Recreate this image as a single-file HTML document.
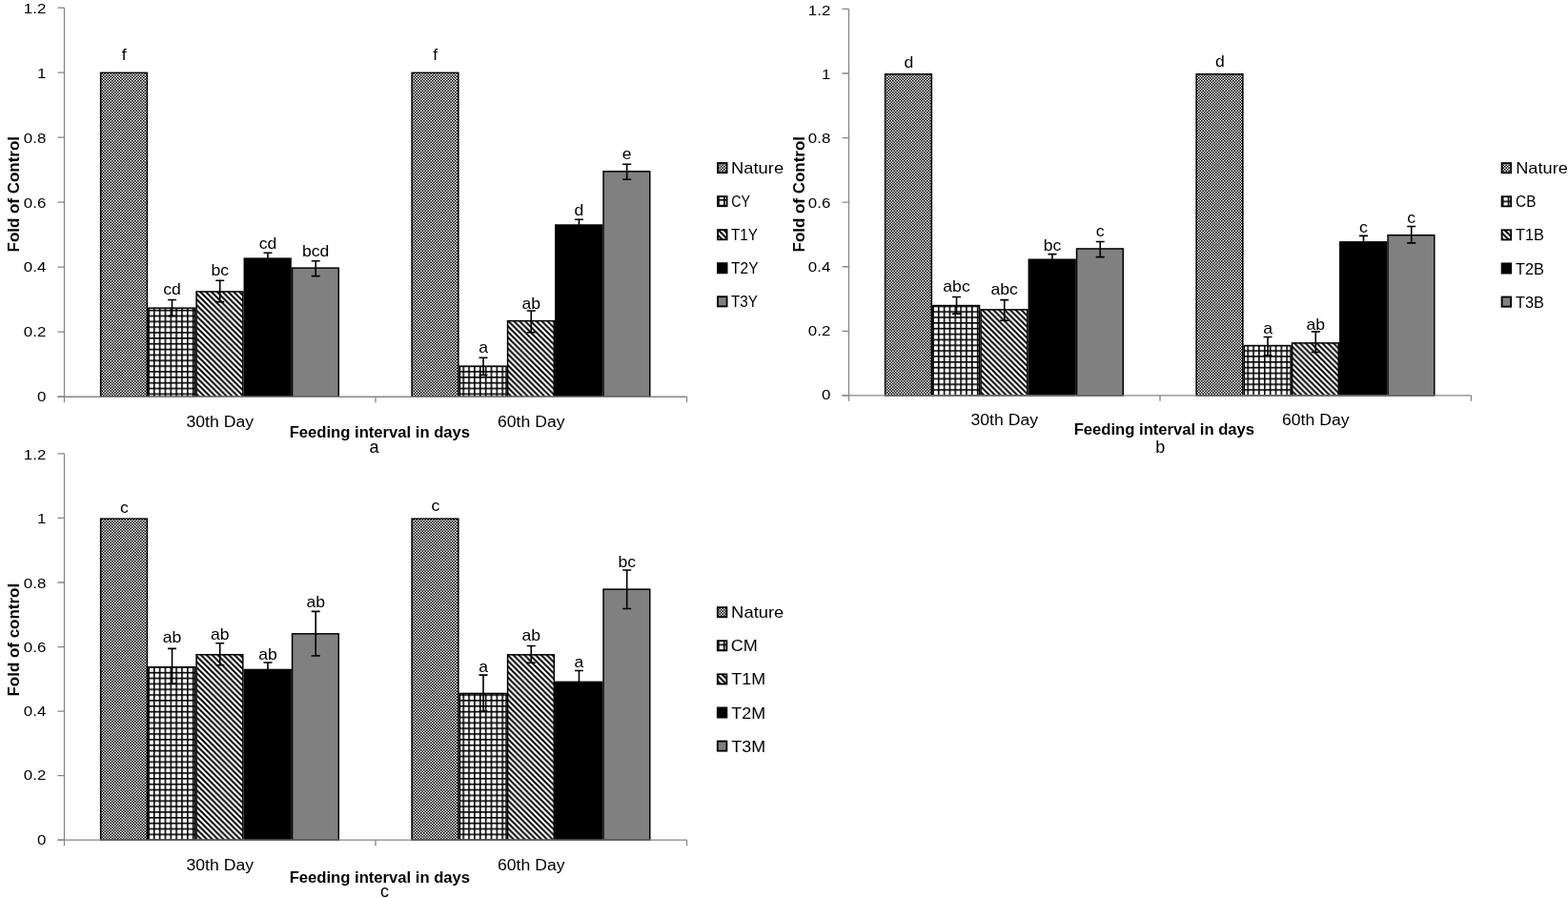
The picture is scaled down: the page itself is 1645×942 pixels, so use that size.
<!DOCTYPE html><html><head><meta charset="utf-8"><title>Fold of Control charts</title>
<style>html,body{margin:0;padding:0;background:#fff;width:1645px;height:942px;overflow:hidden}svg{display:block}text{font-family:"Liberation Sans", sans-serif;fill:#000}</style></head><body>
<svg width="1645" height="942" viewBox="0 0 1645 942">
<defs>
<pattern id="pNat" patternUnits="userSpaceOnUse" width="3" height="3"><rect width="3" height="3" fill="#7a7a7a"/><rect width="1" height="1" fill="#000"/><rect x="2" y="2" width="1" height="1" fill="#000"/><rect x="2" width="1" height="1" fill="#fff"/><rect y="2" width="1" height="1" fill="#fff"/></pattern>
<pattern id="pGrid" patternUnits="userSpaceOnUse" width="5.85" height="5.85"><rect width="5.85" height="5.85" fill="#fff"/><rect width="1.6" height="5.85" fill="#000"/><rect width="5.85" height="1.6" fill="#000"/></pattern>
<pattern id="pDiag" patternUnits="userSpaceOnUse" x="3.42" width="5.85" height="5.85"><rect width="5.85" height="5.85" fill="#fff"/><path d="M-2,-2L7.85,7.85M-7.85,-2L2,7.85M3.85,-2L13.7,7.85" stroke="#000" stroke-width="1.9"/></pattern>
</defs>
<rect width="1645" height="942" fill="#fff"/>
<rect x="105.62" y="76.34" width="48.73" height="339.91" fill="url(#pNat)" stroke="#000" stroke-width="1.5"/>
<defs><pattern id="g00" href="#pGrid" x="155.05" y="412.52"/></defs>
<rect x="155.85" y="323.15" width="48.73" height="93.1" fill="url(#g00)" stroke="#000" stroke-width="1.5"/>
<rect x="206.08" y="305.94" width="48.73" height="110.31" fill="url(#pDiag)" stroke="#000" stroke-width="1.5"/>
<rect x="256.32" y="271.14" width="48.73" height="145.11" fill="#000" stroke="#000" stroke-width="1.5"/>
<rect x="306.55" y="281.14" width="48.73" height="135.11" fill="#808080" stroke="#000" stroke-width="1.5"/>
<rect x="432.12" y="76.34" width="48.73" height="339.91" fill="url(#pNat)" stroke="#000" stroke-width="1.5"/>
<defs><pattern id="g01" href="#pGrid" x="485.4" y="412.52"/></defs>
<rect x="482.35" y="384.14" width="48.73" height="32.11" fill="url(#g01)" stroke="#000" stroke-width="1.5"/>
<rect x="532.58" y="336.59" width="48.73" height="79.66" fill="url(#pDiag)" stroke="#000" stroke-width="1.5"/>
<rect x="582.82" y="236.04" width="48.73" height="180.21" fill="#000" stroke="#000" stroke-width="1.5"/>
<rect x="633.05" y="179.85" width="48.73" height="236.4" fill="#808080" stroke="#000" stroke-width="1.5"/>
<text transform="translate(130.29,62.5) scale(1.1,1)" font-size="16" text-anchor="middle">f</text>
<path d="M180.52,314.5V331.5M176.02,314.5h9M176.02,331.5h9" stroke="#000" stroke-width="1.6" fill="none"/>
<text transform="translate(180.52,309.3) scale(1.1,1)" font-size="16" text-anchor="middle">cd</text>
<path d="M230.75,294.19V316.59M226.25,294.19h9M226.25,316.59h9" stroke="#000" stroke-width="1.6" fill="none"/>
<text transform="translate(230.75,288.6) scale(1.1,1)" font-size="16" text-anchor="middle">bc</text>
<path d="M280.98,265.19V275.59M276.48,265.19h9M276.48,275.59h9" stroke="#000" stroke-width="1.6" fill="none"/>
<text transform="translate(280.98,261.3) scale(1.1,1)" font-size="16" text-anchor="middle">cd</text>
<path d="M331.21,273.79V289.59M326.71,273.79h9M326.71,289.59h9" stroke="#000" stroke-width="1.6" fill="none"/>
<text transform="translate(331.21,268.7) scale(1.1,1)" font-size="16" text-anchor="middle">bcd</text>
<text transform="translate(456.79,62.6) scale(1.1,1)" font-size="16" text-anchor="middle">f</text>
<path d="M507.02,375.29V393.49M502.52,375.29h9M502.52,393.49h9" stroke="#000" stroke-width="1.6" fill="none"/>
<text transform="translate(507.02,369.6) scale(1.1,1)" font-size="16" text-anchor="middle">a</text>
<path d="M557.25,325.94V348.74M552.75,325.94h9M552.75,348.74h9" stroke="#000" stroke-width="1.6" fill="none"/>
<text transform="translate(557.25,323.6) scale(1.1,1)" font-size="16" text-anchor="middle">ab</text>
<path d="M607.48,230.29V240.29M602.98,230.29h9M602.98,240.29h9" stroke="#000" stroke-width="1.6" fill="none"/>
<text transform="translate(607.48,226.2) scale(1.1,1)" font-size="16" text-anchor="middle">d</text>
<path d="M657.71,172.2V188.3M653.21,172.2h9M653.21,188.3h9" stroke="#000" stroke-width="1.6" fill="none"/>
<text transform="translate(657.71,167) scale(1.1,1)" font-size="16" text-anchor="middle">e</text>
<path d="M67.5,8.07V416.25" stroke="#868686" stroke-width="1.3" fill="none"/>
<path d="M60.5,416.25H720.5" stroke="#868686" stroke-width="1.3" fill="none"/>
<path d="M60.5,416.25H67.5M60.5,348.22H67.5M60.5,280.19H67.5M60.5,212.16H67.5M60.5,144.13H67.5M60.5,76.1H67.5M60.5,8.07H67.5M67.5,416.25V422.25M394,416.25V422.25M720.5,416.25V422.25" stroke="#868686" stroke-width="1.3" fill="none"/>
<text transform="translate(48.3,420.85) scale(1.11,1)" font-size="15.2" text-anchor="end">0</text>
<text transform="translate(48.3,353.08) scale(1.11,1)" font-size="15.2" text-anchor="end">0.2</text>
<text transform="translate(48.3,285.31) scale(1.11,1)" font-size="15.2" text-anchor="end">0.4</text>
<text transform="translate(48.3,217.54) scale(1.11,1)" font-size="15.2" text-anchor="end">0.6</text>
<text transform="translate(48.3,149.76) scale(1.11,1)" font-size="15.2" text-anchor="end">0.8</text>
<text transform="translate(48.3,81.99) scale(1.11,1)" font-size="15.2" text-anchor="end">1</text>
<text transform="translate(48.3,14.22) scale(1.11,1)" font-size="15.2" text-anchor="end">1.2</text>
<text transform="translate(230.75,447.7) scale(1.13,1)" font-size="15.6" text-anchor="middle">30th Day</text>
<text transform="translate(557.25,447.7) scale(1.13,1)" font-size="15.6" text-anchor="middle">60th Day</text>
<text transform="translate(398.4,458.9) scale(1.04,1)" font-size="16" text-anchor="middle" font-weight="bold">Feeding interval in days</text>
<text transform="translate(392.4,474.5)" font-size="18" text-anchor="middle">a</text>
<text transform="translate(20.4,203.75) rotate(-90) scale(1.06,1)" font-size="16" text-anchor="middle" font-weight="bold">Fold of Control</text>
<rect x="753" y="171" width="9.6" height="10.2" fill="url(#pNat)" stroke="#000" stroke-width="1.8"/>
<text transform="translate(766.92,182.1) scale(1.15,1)" font-size="16" text-anchor="start">Nature</text>
<defs><pattern id="gl0" href="#pGrid" x="759.1" y="208.95"/></defs>
<rect x="753" y="206.05" width="9.6" height="10.2" fill="url(#gl0)" stroke="#000" stroke-width="1.8"/>
<text transform="translate(767.22,217.15) scale(0.89,1)" font-size="16" text-anchor="start">CY</text>
<rect x="753" y="241.1" width="9.6" height="10.2" fill="url(#pDiag)" stroke="#000" stroke-width="1.8"/>
<text transform="translate(767.04,252.2) scale(0.95,1)" font-size="16" text-anchor="start">T1Y</text>
<rect x="753" y="276.15" width="9.6" height="10.2" fill="#000" stroke="#000" stroke-width="1.8"/>
<text transform="translate(767.04,287.25) scale(0.97,1)" font-size="16" text-anchor="start">T2Y</text>
<rect x="753" y="311.2" width="9.6" height="10.2" fill="#808080" stroke="#000" stroke-width="1.8"/>
<text transform="translate(767.04,322.3) scale(0.95,1)" font-size="16" text-anchor="start">T3Y</text>
<rect x="928.62" y="77.77" width="48.73" height="337.1" fill="url(#pNat)" stroke="#000" stroke-width="1.5"/>
<defs><pattern id="g10" href="#pGrid" x="978.05" y="408.22"/></defs>
<rect x="978.85" y="320.55" width="48.73" height="94.32" fill="url(#g10)" stroke="#000" stroke-width="1.5"/>
<rect x="1029.08" y="324.84" width="48.73" height="90.03" fill="url(#pDiag)" stroke="#000" stroke-width="1.5"/>
<rect x="1079.32" y="272.24" width="48.73" height="142.63" fill="#000" stroke="#000" stroke-width="1.5"/>
<rect x="1129.55" y="260.95" width="48.73" height="153.92" fill="#808080" stroke="#000" stroke-width="1.5"/>
<rect x="1255.12" y="77.77" width="48.73" height="337.1" fill="url(#pNat)" stroke="#000" stroke-width="1.5"/>
<defs><pattern id="g11" href="#pGrid" x="1308.4" y="408.22"/></defs>
<rect x="1305.35" y="362.54" width="48.73" height="52.33" fill="url(#g11)" stroke="#000" stroke-width="1.5"/>
<rect x="1355.58" y="359.84" width="48.73" height="55.03" fill="url(#pDiag)" stroke="#000" stroke-width="1.5"/>
<rect x="1405.82" y="253.86" width="48.73" height="161.01" fill="#000" stroke="#000" stroke-width="1.5"/>
<rect x="1456.05" y="246.69" width="48.73" height="168.18" fill="#808080" stroke="#000" stroke-width="1.5"/>
<text transform="translate(953.29,70.7) scale(1.1,1)" font-size="16" text-anchor="middle">d</text>
<path d="M1003.52,311.5V329.1M999.02,311.5h9M999.02,329.1h9" stroke="#000" stroke-width="1.6" fill="none"/>
<text transform="translate(1003.52,306.4) scale(1.1,1)" font-size="16" text-anchor="middle">abc</text>
<path d="M1053.75,314.59V336.19M1049.25,314.59h9M1049.25,336.19h9" stroke="#000" stroke-width="1.6" fill="none"/>
<text transform="translate(1053.75,309.4) scale(1.1,1)" font-size="16" text-anchor="middle">abc</text>
<path d="M1103.98,266.59V276.39M1099.48,266.59h9M1099.48,276.39h9" stroke="#000" stroke-width="1.6" fill="none"/>
<text transform="translate(1103.98,262.8) scale(1.1,1)" font-size="16" text-anchor="middle">bc</text>
<path d="M1154.21,253.5V269.6M1149.71,253.5h9M1149.71,269.6h9" stroke="#000" stroke-width="1.6" fill="none"/>
<text transform="translate(1154.21,248) scale(1.1,1)" font-size="16" text-anchor="middle">c</text>
<text transform="translate(1279.79,69.5) scale(1.1,1)" font-size="16" text-anchor="middle">d</text>
<path d="M1330.02,353.49V372.79M1325.52,353.49h9M1325.52,372.79h9" stroke="#000" stroke-width="1.6" fill="none"/>
<text transform="translate(1330.02,349.7) scale(1.1,1)" font-size="16" text-anchor="middle">a</text>
<path d="M1380.25,347.89V369.49M1375.75,347.89h9M1375.75,369.49h9" stroke="#000" stroke-width="1.6" fill="none"/>
<text transform="translate(1380.25,345.7) scale(1.1,1)" font-size="16" text-anchor="middle">ab</text>
<path d="M1430.48,247.41V258.81M1425.98,247.41h9M1425.98,258.81h9" stroke="#000" stroke-width="1.6" fill="none"/>
<text transform="translate(1430.48,243.7) scale(1.1,1)" font-size="16" text-anchor="middle">c</text>
<path d="M1480.71,237.5V254.89M1476.21,237.5h9M1476.21,254.89h9" stroke="#000" stroke-width="1.6" fill="none"/>
<text transform="translate(1480.71,233.7) scale(1.1,1)" font-size="16" text-anchor="middle">c</text>
<path d="M890.5,9.45V414.87" stroke="#868686" stroke-width="1.3" fill="none"/>
<path d="M883.5,414.87H1543.5" stroke="#868686" stroke-width="1.3" fill="none"/>
<path d="M883.5,414.87H890.5M883.5,347.3H890.5M883.5,279.73H890.5M883.5,212.16H890.5M883.5,144.59H890.5M883.5,77.02H890.5M883.5,9.45H890.5M890.5,414.87V420.87M1217,414.87V420.87M1543.5,414.87V420.87" stroke="#868686" stroke-width="1.3" fill="none"/>
<text transform="translate(871.3,419.47) scale(1.11,1)" font-size="15.2" text-anchor="end">0</text>
<text transform="translate(871.3,352.16) scale(1.11,1)" font-size="15.2" text-anchor="end">0.2</text>
<text transform="translate(871.3,284.84) scale(1.11,1)" font-size="15.2" text-anchor="end">0.4</text>
<text transform="translate(871.3,217.53) scale(1.11,1)" font-size="15.2" text-anchor="end">0.6</text>
<text transform="translate(871.3,150.22) scale(1.11,1)" font-size="15.2" text-anchor="end">0.8</text>
<text transform="translate(871.3,82.9) scale(1.11,1)" font-size="15.2" text-anchor="end">1</text>
<text transform="translate(871.3,15.59) scale(1.11,1)" font-size="15.2" text-anchor="end">1.2</text>
<text transform="translate(1053.75,446) scale(1.13,1)" font-size="15.6" text-anchor="middle">30th Day</text>
<text transform="translate(1380.25,446) scale(1.13,1)" font-size="15.6" text-anchor="middle">60th Day</text>
<text transform="translate(1221.4,456) scale(1.04,1)" font-size="16" text-anchor="middle" font-weight="bold">Feeding interval in days</text>
<text transform="translate(1217.3,475)" font-size="18" text-anchor="middle">b</text>
<text transform="translate(843.9,203.75) rotate(-90) scale(1.06,1)" font-size="16" text-anchor="middle" font-weight="bold">Fold of Control</text>
<rect x="1575.6" y="171.1" width="9.6" height="10.2" fill="url(#pNat)" stroke="#000" stroke-width="1.8"/>
<text transform="translate(1590.14,182.2) scale(1.14,1)" font-size="16" text-anchor="start">Nature</text>
<defs><pattern id="gl1" href="#pGrid" x="1581.7" y="210.5"/></defs>
<rect x="1575.6" y="206.2" width="9.6" height="10.2" fill="url(#gl1)" stroke="#000" stroke-width="1.8"/>
<text transform="translate(1590.06,217.3) scale(0.96,1)" font-size="16" text-anchor="start">CB</text>
<rect x="1575.6" y="241.3" width="9.6" height="10.2" fill="url(#pDiag)" stroke="#000" stroke-width="1.8"/>
<text transform="translate(1589.92,252.4) scale(1.02,1)" font-size="16" text-anchor="start">T1B</text>
<rect x="1575.6" y="276.4" width="9.6" height="10.2" fill="#000" stroke="#000" stroke-width="1.8"/>
<text transform="translate(1589.92,287.5) scale(1.02,1)" font-size="16" text-anchor="start">T2B</text>
<rect x="1575.6" y="311.5" width="9.6" height="10.2" fill="#808080" stroke="#000" stroke-width="1.8"/>
<text transform="translate(1589.92,322.6) scale(1.02,1)" font-size="16" text-anchor="start">T3B</text>
<rect x="105.62" y="544.2" width="48.73" height="336.95" fill="url(#pNat)" stroke="#000" stroke-width="1.5"/>
<defs><pattern id="g20" href="#pGrid" x="155.05" y="874.5"/></defs>
<rect x="155.85" y="699.74" width="48.73" height="181.41" fill="url(#g20)" stroke="#000" stroke-width="1.5"/>
<rect x="206.08" y="686.74" width="48.73" height="194.41" fill="url(#pDiag)" stroke="#000" stroke-width="1.5"/>
<rect x="256.32" y="702.45" width="48.73" height="178.7" fill="#000" stroke="#000" stroke-width="1.5"/>
<rect x="306.55" y="664.86" width="48.73" height="216.29" fill="#808080" stroke="#000" stroke-width="1.5"/>
<rect x="432.12" y="544.2" width="48.73" height="336.95" fill="url(#pNat)" stroke="#000" stroke-width="1.5"/>
<defs><pattern id="g21" href="#pGrid" x="485.4" y="874.5"/></defs>
<rect x="482.35" y="727.44" width="48.73" height="153.71" fill="url(#g21)" stroke="#000" stroke-width="1.5"/>
<rect x="532.58" y="686.84" width="48.73" height="194.31" fill="url(#pDiag)" stroke="#000" stroke-width="1.5"/>
<rect x="582.82" y="715.35" width="48.73" height="165.8" fill="#000" stroke="#000" stroke-width="1.5"/>
<rect x="633.05" y="618.16" width="48.73" height="262.99" fill="#808080" stroke="#000" stroke-width="1.5"/>
<text transform="translate(130.29,537.5) scale(1.1,1)" font-size="16" text-anchor="middle">c</text>
<path d="M180.52,680.39V717.19M176.02,680.39h9M176.02,717.19h9" stroke="#000" stroke-width="1.6" fill="none"/>
<text transform="translate(180.52,673.7) scale(1.1,1)" font-size="16" text-anchor="middle">ab</text>
<path d="M230.75,674.69V697.69M226.25,674.69h9M226.25,697.69h9" stroke="#000" stroke-width="1.6" fill="none"/>
<text transform="translate(230.75,670.7) scale(1.1,1)" font-size="16" text-anchor="middle">ab</text>
<path d="M280.98,695V708.4M276.48,695h9M276.48,708.4h9" stroke="#000" stroke-width="1.6" fill="none"/>
<text transform="translate(280.98,692.2) scale(1.1,1)" font-size="16" text-anchor="middle">ab</text>
<path d="M331.21,641.41V687.91M326.71,641.41h9M326.71,687.91h9" stroke="#000" stroke-width="1.6" fill="none"/>
<text transform="translate(331.21,637.2) scale(1.1,1)" font-size="16" text-anchor="middle">ab</text>
<text transform="translate(456.79,535.7) scale(1.1,1)" font-size="16" text-anchor="middle">c</text>
<path d="M507.02,708.09V746.09M502.52,708.09h9M502.52,746.09h9" stroke="#000" stroke-width="1.6" fill="none"/>
<text transform="translate(507.02,704.9) scale(1.1,1)" font-size="16" text-anchor="middle">a</text>
<path d="M557.25,677.49V695.29M552.75,677.49h9M552.75,695.29h9" stroke="#000" stroke-width="1.6" fill="none"/>
<text transform="translate(557.25,672) scale(1.1,1)" font-size="16" text-anchor="middle">ab</text>
<path d="M607.48,703.5V725.7M602.98,703.5h9M602.98,725.7h9" stroke="#000" stroke-width="1.6" fill="none"/>
<text transform="translate(607.48,699.7) scale(1.1,1)" font-size="16" text-anchor="middle">a</text>
<path d="M657.71,598.01V638.51M653.21,598.01h9M653.21,638.51h9" stroke="#000" stroke-width="1.6" fill="none"/>
<text transform="translate(657.71,595.4) scale(1.1,1)" font-size="16" text-anchor="middle">bc</text>
<path d="M67.5,475.91V881.15" stroke="#868686" stroke-width="1.3" fill="none"/>
<path d="M60.5,881.15H720.5" stroke="#868686" stroke-width="1.3" fill="none"/>
<path d="M60.5,881.15H67.5M60.5,813.61H67.5M60.5,746.07H67.5M60.5,678.53H67.5M60.5,610.99H67.5M60.5,543.45H67.5M60.5,475.91H67.5M67.5,881.15V887.15M394,881.15V887.15M720.5,881.15V887.15" stroke="#868686" stroke-width="1.3" fill="none"/>
<text transform="translate(48.3,885.75) scale(1.11,1)" font-size="15.2" text-anchor="end">0</text>
<text transform="translate(48.3,818.47) scale(1.11,1)" font-size="15.2" text-anchor="end">0.2</text>
<text transform="translate(48.3,751.18) scale(1.11,1)" font-size="15.2" text-anchor="end">0.4</text>
<text transform="translate(48.3,683.9) scale(1.11,1)" font-size="15.2" text-anchor="end">0.6</text>
<text transform="translate(48.3,616.62) scale(1.11,1)" font-size="15.2" text-anchor="end">0.8</text>
<text transform="translate(48.3,549.33) scale(1.11,1)" font-size="15.2" text-anchor="end">1</text>
<text transform="translate(48.3,482.05) scale(1.11,1)" font-size="15.2" text-anchor="end">1.2</text>
<text transform="translate(230.75,912.7) scale(1.13,1)" font-size="15.6" text-anchor="middle">30th Day</text>
<text transform="translate(557.25,912.7) scale(1.13,1)" font-size="15.6" text-anchor="middle">60th Day</text>
<text transform="translate(398.4,925.6) scale(1.04,1)" font-size="16" text-anchor="middle" font-weight="bold">Feeding interval in days</text>
<text transform="translate(403.5,940.9)" font-size="18" text-anchor="middle">c</text>
<text transform="translate(20.4,671.2) rotate(-90) scale(1.06,1)" font-size="16" text-anchor="middle" font-weight="bold">Fold of control</text>
<rect x="752.8" y="637.1" width="9.6" height="10.2" fill="url(#pNat)" stroke="#000" stroke-width="1.8"/>
<text transform="translate(767.12,648.2) scale(1.15,1)" font-size="16" text-anchor="start">Nature</text>
<defs><pattern id="gl2" href="#pGrid" x="758.9" y="675.5"/></defs>
<rect x="752.8" y="672.2" width="9.6" height="10.2" fill="url(#gl2)" stroke="#000" stroke-width="1.8"/>
<text transform="translate(766.71,683.3) scale(1.13,1)" font-size="16" text-anchor="start">CM</text>
<rect x="752.8" y="707.3" width="9.6" height="10.2" fill="url(#pDiag)" stroke="#000" stroke-width="1.8"/>
<text transform="translate(767.28,718.4) scale(1.12,1)" font-size="16" text-anchor="start">T1M</text>
<rect x="752.8" y="742.4" width="9.6" height="10.2" fill="#000" stroke="#000" stroke-width="1.8"/>
<text transform="translate(767.28,753.5) scale(1.12,1)" font-size="16" text-anchor="start">T2M</text>
<rect x="752.8" y="777.5" width="9.6" height="10.2" fill="#808080" stroke="#000" stroke-width="1.8"/>
<text transform="translate(767.28,788.6) scale(1.12,1)" font-size="16" text-anchor="start">T3M</text>
</svg></body></html>
